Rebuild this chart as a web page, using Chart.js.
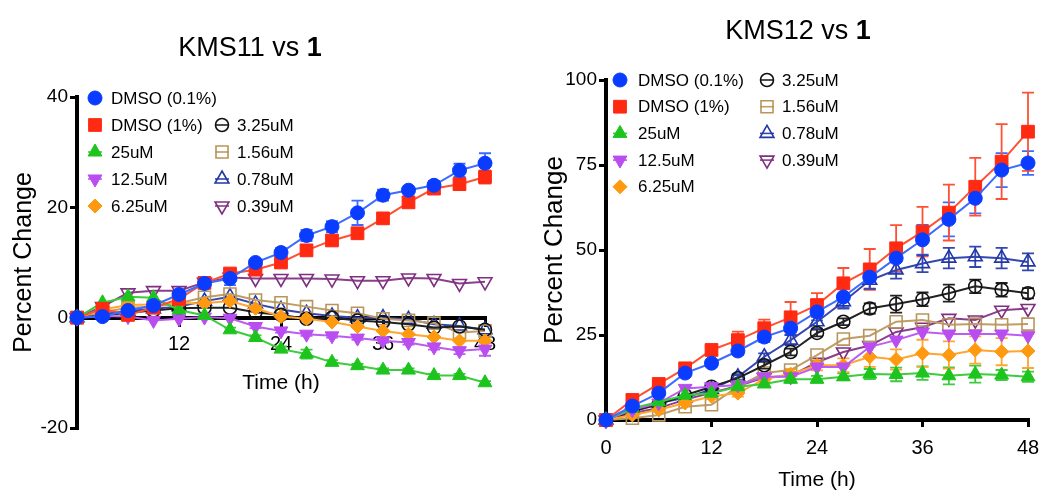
<!DOCTYPE html>
<html lang="en">
<head>
<meta charset="UTF-8">
<title>KMS11 / KMS12 vs 1</title>
<script src="https://cdn.jsdelivr.net/npm/chart.js"></script>
<style>
    body {
        margin: 0;
        background: #fff;
        font-family: "Liberation Sans", Arial, sans-serif;
    }
    .page {
        position: relative;
        width: 1042px;
        height: 496px;
        overflow: hidden;
    }
    .panel {
        position: absolute;
        top: 0;
        width: 520px;
        height: 496px;
    }
    .title {
        position: absolute;
        width: 300px;
        text-align: center;
        font-size: 27px;
        line-height: 27px;
        color: #000;
        z-index: 2;
    }
</style>
</head>
<body>
<div class="page">
    <div class="title" style="left:100px; top:34px;">KMS11 vs <b>1</b></div>
    <div class="title" style="left:648px; top:17px;">KMS12 vs <b>1</b></div>
    <div class="panel" style="left:0;"><canvas id="kms11" width="520" height="496"></canvas></div>
    <div class="panel" style="left:520px; width:522px;"><canvas id="kms12" width="522" height="496"></canvas></div>
</div>

<script>
// time points (h)
const times = [0, 3, 6, 9, 12, 15, 18, 21, 24, 27, 30, 33, 36, 39, 42, 45, 48];
const seriesNames = ['DMSO (0.1%)', 'DMSO (1%)', '25uM', '12.5uM', '6.25uM', '3.25uM', '1.56uM', '0.78uM', '0.39uM'];

// KMS11, percent change
const k11Dmso01 = [0, 0.2, 1.3, 2.2, 4.2, 6.2, 7.1, 10.0, 11.8, 14.9, 16.5, 19.0, 22.2, 23.1, 24.0, 26.7, 28.0];
const k11Dmso1 = [0, 1.6, 0.5, 1.8, 3.4, 6.3, 8.0, 8.7, 10.0, 12.2, 14.0, 15.3, 18.0, 20.9, 23.4, 24.2, 25.5];
const k11U25 = [0, 2.7, 3.8, 3.6, 1.4, 0.4, -2.2, -3.6, -5.7, -6.6, -8.1, -8.7, -9.5, -9.5, -10.5, -10.5, -11.8];
const k11U125 = [0, 0.3, 0.2, -0.5, -0.2, 0.1, -0.1, -1.6, -2.4, -3.0, -3.3, -3.7, -4.2, -4.5, -5.3, -6.0, -5.7];
const k11U625 = [0, 1.5, 2.3, 2.4, 2.6, 2.6, 3.0, 1.7, 0.2, -0.2, -0.8, -1.6, -2.4, -3.0, -3.5, -4.2, -4.2];
const k11U325 = [0, 0.4, 0.9, 1.3, 1.7, 1.8, 1.8, 1.0, 0.5, -0.2, 0.0, -0.5, -0.8, -1.2, -1.8, -1.6, -2.2];
const k11U156 = [0, 1.0, 1.8, 2.0, 2.6, 3.7, 4.3, 3.2, 2.7, 2.0, 1.3, 0.8, -0.2, -0.5, -1.0, -2.7, -2.4];
const k11U078 = [0, 0.6, 1.2, 1.6, 2.0, 3.0, 3.8, 2.5, 1.5, 0.8, 0.3, 0.0, 0.0, -0.3, -1.2, -1.5, -2.2];
const k11U039 = [0, 2.0, 4.5, 4.9, 4.9, 6.4, 7.3, 7.1, 7.1, 7.1, 7.0, 6.7, 6.7, 7.2, 7.1, 6.2, 6.5];

// KMS11 error bars
const k11ErrDmso01 = [0, 0.3, 0.3, 0.3, 0.4, 0.5, 1.2, 0.5, 0.8, 1.0, 1.0, 2.2, 1.0, 0.5, 0.8, 1.2, 1.8];
const k11ErrDmso1 = [0, 0.3, 0.3, 0.3, 0.4, 0.5, 0.6, 0.5, 0.5, 0.8, 0.8, 0.8, 0.5, 0.7, 1.0, 1.0, 1.2];
const k11ErrU25 = [0, 0, 0, 0, 0, 0, 0.4, 0.4, 0.5, 0.8, 0.4, 0.3, 0.3, 0.3, 0.3, 0.3, 0.3];
const k11ErrU125 = [0, 0, 0, 0, 0, 0, 0, 0.3, 0.3, 0.3, 0.3, 0.3, 0.3, 0.4, 0.5, 0.6, 1.2];

// KMS12, percent change
const k12Dmso01 = [0, 4.1, 7.9, 13.8, 16.7, 20.3, 24.4, 27.0, 31.8, 36.2, 42.0, 47.6, 53.0, 59.0, 65.2, 73.5, 75.6];
const k12Dmso1 = [0, 5.9, 10.6, 15.2, 20.6, 23.5, 27.0, 30.2, 33.8, 40.2, 44.3, 50.5, 55.4, 61.0, 68.6, 76.0, 84.8];
const k12U25 = [0, 3.5, 5.3, 7.3, 7.9, 9.8, 10.6, 12.0, 12.0, 12.7, 13.5, 13.4, 13.8, 13.0, 13.5, 13.2, 12.7];
const k12U125 = [0, 3.0, 5.0, 9.3, 9.8, 10.3, 12.7, 12.7, 15.6, 15.6, 21.5, 23.5, 25.9, 25.3, 25.3, 25.3, 24.8];
const k12U625 = [0, 1.5, 3.0, 5.0, 7.0, 7.9, 12.0, 13.5, 16.1, 16.1, 18.6, 17.8, 19.6, 19.1, 20.6, 20.1, 20.3];
const k12U325 = [0, 2.5, 4.6, 7.3, 9.8, 12.3, 16.1, 20.0, 25.6, 28.9, 32.8, 34.1, 35.5, 37.3, 39.3, 38.3, 37.3];
const k12U156 = [0, 0.5, 1.5, 3.9, 4.5, 9.8, 13.8, 14.7, 19.1, 23.8, 24.8, 28.9, 29.4, 28.0, 28.2, 28.0, 28.2];
const k12U078 = [0, 3.0, 5.0, 6.5, 9.0, 12.7, 18.6, 23.5, 28.9, 34.8, 41.1, 44.1, 46.0, 47.6, 48.0, 47.6, 46.5];
const k12U039 = [0, 2.0, 3.5, 6.0, 8.0, 10.0, 12.5, 13.0, 17.0, 20.0, 21.9, 25.9, 27.3, 29.9, 29.4, 32.3, 32.8];

// KMS12 error bars
const k12ErrDmso01 = [0, 0.5, 0.8, 1.0, 1.0, 1.2, 1.5, 2.0, 2.5, 3.0, 3.5, 4.4, 4.4, 5.0, 4.4, 5.0, 3.5];
const k12ErrDmso1 = [0, 0.5, 0.8, 1.0, 1.2, 2.5, 2.5, 4.5, 3.5, 4.5, 6.0, 6.8, 7.3, 8.2, 8.5, 11.0, 11.5];
const k12ErrU25 = [0, 0, 0, 0, 0, 0.5, 0.5, 1.0, 1.0, 1.0, 1.5, 2.0, 2.0, 2.5, 2.5, 1.5, 1.5];
const k12ErrU625 = [0, 0, 0, 0, 0, 1.0, 1.0, 1.5, 1.5, 2.0, 3.0, 3.0, 4.0, 4.0, 4.0, 4.0, 5.0];
const k12ErrU325 = [0, 0, 0, 0, 1.0, 1.0, 1.0, 1.0, 1.0, 1.0, 1.5, 2.5, 2.0, 2.5, 2.0, 2.0, 1.5];
const k12ErrU078 = [0, 0, 0, 0, 0.5, 0.8, 1.0, 1.5, 2.0, 2.0, 2.5, 2.5, 2.5, 3.0, 3.0, 3.0, 2.5];

// marker / line look for each series, same order as seriesNames
const looks = [
    { color: '#0a3cff', line: '#3d6bff', style: 'circle', r: 7, rot: 0, open: false },
    { color: '#ff2a12', line: '#ff5033', style: 'rect', r: 9, rot: 0, open: false },
    { color: '#1ec41e', line: '#3ccc3c', style: 'triangle', r: 8, rot: 0, open: false },
    { color: '#b94df0', line: '#bd5cf0', style: 'triangle', r: 8, rot: 180, open: false },
    { color: '#ff9a10', line: '#ffa530', style: 'rectRot', r: 7, rot: 0, open: false },
    { color: '#111111', line: '#222222', style: 'circle', r: 6.5, rot: 0, open: true },
    { color: '#b8955a', line: '#bf9d66', style: 'rect', r: 8.5, rot: 0, open: true },
    { color: '#2236a8', line: '#3446b0', style: 'triangle', r: 8, rot: 0, open: true },
    { color: '#7e2f80', line: '#8a3e8c', style: 'triangle', r: 8, rot: 180, open: true }
];

Chart.defaults.font.family = '"Liberation Sans", Arial, sans-serif';
Chart.defaults.color = '#000';

function buildSets(valueLists, errorLists) {
    return valueLists.map((vals, i) => {
        const lk = looks[i];
        return {
            label: seriesNames[i],
            data: times.map((t, j) => ({ x: t, y: vals[j] })),
            errors: errorLists[i] || null,
            borderColor: lk.line,
            borderWidth: 2,
            pointStyle: lk.style,
            pointRadius: lk.r,
            pointRotation: lk.rot,
            pointBackgroundColor: lk.open ? 'rgba(0,0,0,0)' : lk.color,
            pointBorderColor: lk.color,
            pointBorderWidth: lk.open ? 1.6 : 1,
            tension: 0,
            clip: false
        };
    });
}

const errorBars = {
    id: 'errorBars',
    beforeDatasetsDraw(chart) {
        const ctx = chart.ctx;
        const ys = chart.scales.y;
        chart.data.datasets.forEach((ds, i) => {
            if (!ds.errors) return;
            const meta = chart.getDatasetMeta(i);
            ctx.save();
            ctx.strokeStyle = ds.borderColor;
            ctx.lineWidth = 1.8;
            meta.data.forEach((pt, j) => {
                const e = ds.errors[j];
                if (!e) return;
                const v = ds.data[j].y;
                const top = ys.getPixelForValue(v + e);
                const bot = ys.getPixelForValue(v - e);
                ctx.beginPath();
                ctx.moveTo(pt.x, top); ctx.lineTo(pt.x, bot);
                ctx.moveTo(pt.x - 6, top); ctx.lineTo(pt.x + 6, top);
                ctx.moveTo(pt.x - 6, bot); ctx.lineTo(pt.x + 6, bot);
                ctx.stroke();
            });
            ctx.restore();
        });
    }
};

// two-column legend drawn inside the plot area
const colLegend = {
    id: 'colLegend',
    afterDraw(chart, args, opts) {
        const ctx = chart.ctx;
        const a = chart.chartArea;
        ctx.save();
        ctx.font = '17px "Liberation Sans", Arial, sans-serif';
        ctx.textBaseline = 'middle';
        opts.items.forEach(it => {
            const ds = chart.data.datasets[it.i];
            const col = opts.cols[it.col];
            const x = a.left + col.mark;
            const y = a.top + opts.top + it.row * opts.gap;
            ctx.strokeStyle = ds.borderColor;
            ctx.lineWidth = 1.6;
            ctx.beginPath();
            ctx.moveTo(x - 7, y); ctx.lineTo(x + 7, y);
            ctx.stroke();
            ctx.fillStyle = ds.pointBackgroundColor;
            ctx.strokeStyle = ds.pointBorderColor;
            ctx.lineWidth = ds.pointBorderWidth;
            Chart.helpers.drawPoint(ctx, {
                pointStyle: ds.pointStyle,
                rotation: ds.pointRotation,
                radius: ds.pointRadius,
                borderWidth: ds.pointBorderWidth
            }, x, y);
            ctx.fillStyle = '#000';
            ctx.fillText(ds.label, a.left + col.text, y + 1);
        });
        ctx.restore();
    }
};

function fixedWidth(w) {
    return scale => { scale.width = w; };
}

const axisLine = { display: true, color: '#000', width: 4 };
const tickMarks = { drawOnChartArea: false, drawTicks: true, tickLength: 7, color: '#000', lineWidth: 3 };

// KMS11
new Chart(document.getElementById('kms11'), {
    type: 'line',
    data: {
        datasets: buildSets(
            [k11Dmso01, k11Dmso1, k11U25, k11U125, k11U625, k11U325, k11U156, k11U078, k11U039],
            [k11ErrDmso01, k11ErrDmso1, k11ErrU25, k11ErrU125]
        )
    },
    options: {
        responsive: false,
        animation: false,
        devicePixelRatio: 1,
        layout: { padding: { left: 0, top: 97, right: 35, bottom: 68 } },
        plugins: {
            legend: { display: false },
            tooltip: { enabled: false },
            colLegend: {
                top: 1, gap: 27,
                cols: [{ mark: 18, text: 34 }, { mark: 145, text: 160 }],
                items: [
                    { i: 0, col: 0, row: 0 }, { i: 1, col: 0, row: 1 }, { i: 2, col: 0, row: 2 },
                    { i: 3, col: 0, row: 3 }, { i: 4, col: 0, row: 4 },
                    { i: 5, col: 1, row: 1 }, { i: 6, col: 1, row: 2 },
                    { i: 7, col: 1, row: 3 }, { i: 8, col: 1, row: 4 }
                ]
            }
        },
        scales: {
            x: {
                type: 'linear',
                position: { y: 0 },
                min: 0, max: 48,
                border: axisLine,
                grid: tickMarks,
                ticks: {
                    stepSize: 12,
                    padding: 8,
                    font: { size: 20 },
                    callback: v => (v === 0 ? '' : v)
                },
                title: { display: true, text: 'Time (h)', font: { size: 21 }, padding: { top: 6, bottom: 0 } }
            },
            y: {
                min: -20, max: 40,
                border: axisLine,
                grid: tickMarks,
                afterFit: fixedWidth(77),
                ticks: { stepSize: 20, padding: 2, font: { size: 19 } },
                title: { display: true, text: 'Percent Change', font: { size: 25 }, padding: { top: 9, bottom: 0 } }
            }
        }
    },
    plugins: [errorBars, colLegend]
});

// KMS12
new Chart(document.getElementById('kms12'), {
    type: 'line',
    data: {
        datasets: buildSets(
            [k12Dmso01, k12Dmso1, k12U25, k12U125, k12U625, k12U325, k12U156, k12U078, k12U039],
            [k12ErrDmso01, k12ErrDmso1, k12ErrU25, null, k12ErrU625, k12ErrU325, null, k12ErrU078]
        )
    },
    options: {
        responsive: false,
        animation: false,
        devicePixelRatio: 1,
        layout: { padding: { left: 0, top: 80, right: 14, bottom: 0 } },
        plugins: {
            legend: { display: false },
            tooltip: { enabled: false },
            colLegend: {
                top: 0, gap: 26.7,
                cols: [{ mark: 14, text: 32 }, { mark: 161, text: 176 }],
                items: [
                    { i: 0, col: 0, row: 0 }, { i: 1, col: 0, row: 1 }, { i: 2, col: 0, row: 2 },
                    { i: 3, col: 0, row: 3 }, { i: 4, col: 0, row: 4 },
                    { i: 5, col: 1, row: 0 }, { i: 6, col: 1, row: 1 },
                    { i: 7, col: 1, row: 2 }, { i: 8, col: 1, row: 3 }
                ]
            }
        },
        scales: {
            x: {
                type: 'linear',
                min: 0, max: 48,
                border: axisLine,
                grid: tickMarks,
                afterFit: scale => {
                    scale.height = 76;
                    scale.paddingLeft = 0;
                    scale.paddingRight = 0;
                },
                ticks: { stepSize: 12, padding: 9, font: { size: 20 } },
                title: { display: true, text: 'Time (h)', font: { size: 21 }, padding: { top: 0, bottom: 3 } }
            },
            y: {
                min: 0, max: 100,
                border: axisLine,
                grid: tickMarks,
                afterFit: fixedWidth(86),
                ticks: { stepSize: 25, padding: 2, font: { size: 19 } },
                title: { display: true, text: 'Percent Change', font: { size: 26 }, padding: { top: 19, bottom: 0 } }
            }
        }
    },
    plugins: [errorBars, colLegend]
});
</script>
</body>
</html>
